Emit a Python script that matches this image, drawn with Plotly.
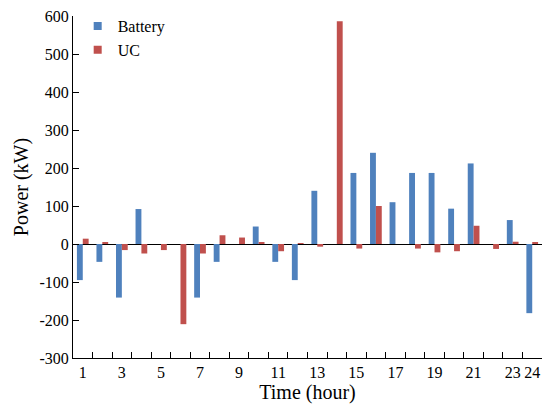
import plotly.graph_objects as go

hours = [str(h) for h in range(1, 25)]
battery = [-95, -47, -141, 92, 0, 0, -141, -47, 0, 46, -47, -95,
           140, 0, 187, 240, 110, 187, 187, 93, 212, 0, 63, -182]
uc = [14, 4, -16, -25, -16, -211, -25, 23, 17, 4, -19, 2,
      -7, 586, -12, 100, 0, -12, -22, -19, 48, -13, 6, 5]
tick_text = [h if (int(h) % 2 == 1 or h == "24") else "" for h in hours]
y_ticks = list(range(-300, 601, 100))
y_tick_text = [str(v) for v in y_ticks]

font_family = "Times New Roman, Liberation Serif, serif"
blue = "#4F81BD"
red = "#C0504D"

fig = go.Figure()
fig.add_trace(go.Bar(x=hours, y=battery, name="Battery", showlegend=False,
                     marker=dict(color=blue, line=dict(width=0))))
fig.add_trace(go.Bar(x=hours, y=uc, name="UC", showlegend=False,
                     marker=dict(color=red, line=dict(width=0))))
# legend entries with small square swatches
for name, col in [("Battery", blue), ("UC", red)]:
    fig.add_trace(go.Scatter(x=[None], y=[None], mode="markers", name=name,
                             marker=dict(symbol="square", size=8, color=col)))

fig.update_layout(
    width=546, height=405,
    margin=dict(l=73, r=4, t=16, b=47),
    paper_bgcolor="white", plot_bgcolor="white",
    barmode="group", bargap=0.4, bargroupgap=0,
    font=dict(family=font_family, size=15, color="black"),
    legend=dict(x=0.01, y=1.02, xanchor="left", yanchor="top",
                bgcolor="rgba(0,0,0,0)", font=dict(family=font_family, size=16),
                itemwidth=30, tracegroupgap=0),
    showlegend=True,
)
fig.update_xaxes(
    type="category", tickvals=hours, ticktext=tick_text, tickangle=0,
    tickson="boundaries", ticks="inside", ticklen=6, tickcolor="black",
    showline=True, linecolor="black", linewidth=1, mirror=False,
    showgrid=False, tickfont=dict(family=font_family, size=16),
    title=dict(text="Time (hour)", font=dict(family=font_family, size=20), standoff=4),
)
fig.update_yaxes(
    range=[-300, 600], tickvals=y_ticks, ticktext=y_tick_text,
    ticks="inside", ticklen=6,
    tickcolor="black", showline=True, linecolor="black", linewidth=1,
    showgrid=False, zeroline=True, zerolinecolor="black", zerolinewidth=1,
    tickfont=dict(family=font_family, size=16),
    title=dict(text="Power (kW)", font=dict(family=font_family, size=20), standoff=5),
)

fig.write_html("out.html")
